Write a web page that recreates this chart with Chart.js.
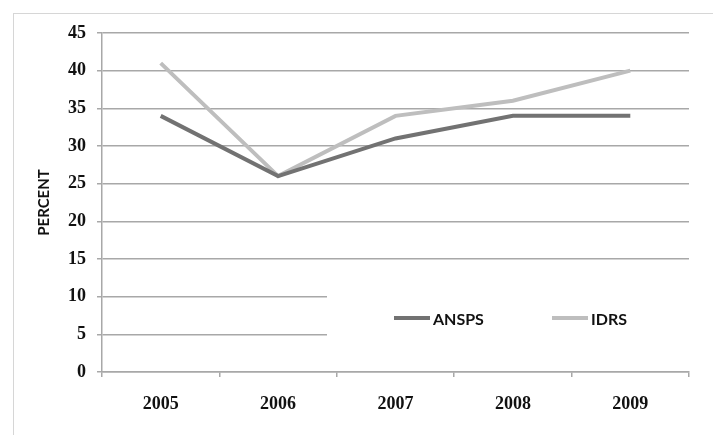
<!DOCTYPE html>
<html>
<head>
<meta charset="utf-8">
<script src="https://cdn.jsdelivr.net/npm/chart.js@4/dist/chart.umd.min.js"></script>
<style>
  html, body { margin: 0; padding: 0; background: #fff; }
  #wrap { position: relative; width: 713px; height: 435px; overflow: hidden; }
  #frame {
    position: absolute; left: 13px; top: 13px; width: 699px; height: 430px;
    border-top: 1px solid #d6d6d6; border-left: 1px solid #d6d6d6;
  }
  canvas { position: absolute; left: 0; top: 0; }
</style>
</head>
<body>
<div id="wrap">
  <div id="frame"></div>
  <canvas id="c" width="713" height="435"></canvas>
</div>
<script>
// Survey years and the share (%) reported by each source
const years = ['2005', '2006', '2007', '2008', '2009'];
const anspsValues = [34, 26, 31, 34, 34];
const idrsValues = [41, 26, 34, 36, 40];
const seriesNames = ['ANSPS', 'IDRS'];
const seriesColors = ['#727272', '#bebebe'];
const yTicks = { min: 0, max: 45, step: 5 };

const gridColor = '#a8a8a8';
const tickFont = { family: 'Liberation Serif', weight: 'bold', size: 18 };
const sansFont = '"Lato", "Open Sans", sans-serif';

// Legend drawn inside the plot area on a white panel
const insideLegend = {
  id: 'insideLegend',
  afterDatasetsDraw(chart) {
    const { ctx, chartArea } = chart;
    ctx.save();
    ctx.fillStyle = '#ffffff';
    ctx.fillRect(327, 268, chartArea.right - 327 + 2, 84);
    const entries = [
      { x: 394, textX: 433 },
      { x: 552, textX: 591 }
    ];
    chart.data.datasets.forEach((ds, i) => {
      const e = entries[i];
      ctx.strokeStyle = ds.borderColor;
      ctx.lineWidth = 4;
      ctx.beginPath();
      ctx.moveTo(e.x, 318);
      ctx.lineTo(e.x + 36, 318);
      ctx.stroke();
      ctx.fillStyle = '#111';
      ctx.font = 'bold 16px ' + sansFont;
      ctx.textBaseline = 'middle';
      ctx.textAlign = 'left';
      ctx.fillText(ds.label, e.textX, 320);
    });
    ctx.restore();
  }
};

new Chart(document.getElementById('c'), {
  type: 'line',
  data: {
    labels: years,
    datasets: [
      { label: seriesNames[0], data: anspsValues, borderColor: seriesColors[0] },
      { label: seriesNames[1], data: idrsValues, borderColor: seriesColors[1] }
    ]
  },
  options: {
    responsive: false,
    animation: false,
    devicePixelRatio: 1,
    layout: { padding: { top: 33, right: 24, left: 0, bottom: 0 } },
    elements: {
      line: { borderWidth: 4, tension: 0, borderCapStyle: 'butt', borderJoinStyle: 'miter' },
      point: { radius: 0, hoverRadius: 0 }
    },
    plugins: {
      legend: { display: false },
      tooltip: { enabled: false }
    },
    scales: {
      x: {
        offset: true,
        grid: {
          offset: true,
          drawOnChartArea: false,
          drawTicks: true,
          tickLength: 5,
          color: gridColor,
          lineWidth: 1.5
        },
        border: { color: gridColor, width: 1.5 },
        ticks: { color: '#111', font: tickFont, padding: 17, maxRotation: 0 },
        afterFit(scale) { scale.height = 63; }
      },
      y: {
        min: yTicks.min,
        max: yTicks.max,
        grid: { color: gridColor, lineWidth: 1.5, tickLength: 5 },
        border: { color: gridColor, width: 1.5 },
        ticks: { stepSize: yTicks.step, color: '#111', font: tickFont, padding: 11 },
        title: {
          display: true,
          text: 'PERCENT',
          color: '#111',
          font: { family: sansFont, weight: 'bold', size: 15 },
          padding: { top: 35, bottom: 0 }
        },
        afterFit(scale) { scale.width = 102; }
      }
    }
  },
  plugins: [insideLegend]
});
</script>
</body>
</html>
